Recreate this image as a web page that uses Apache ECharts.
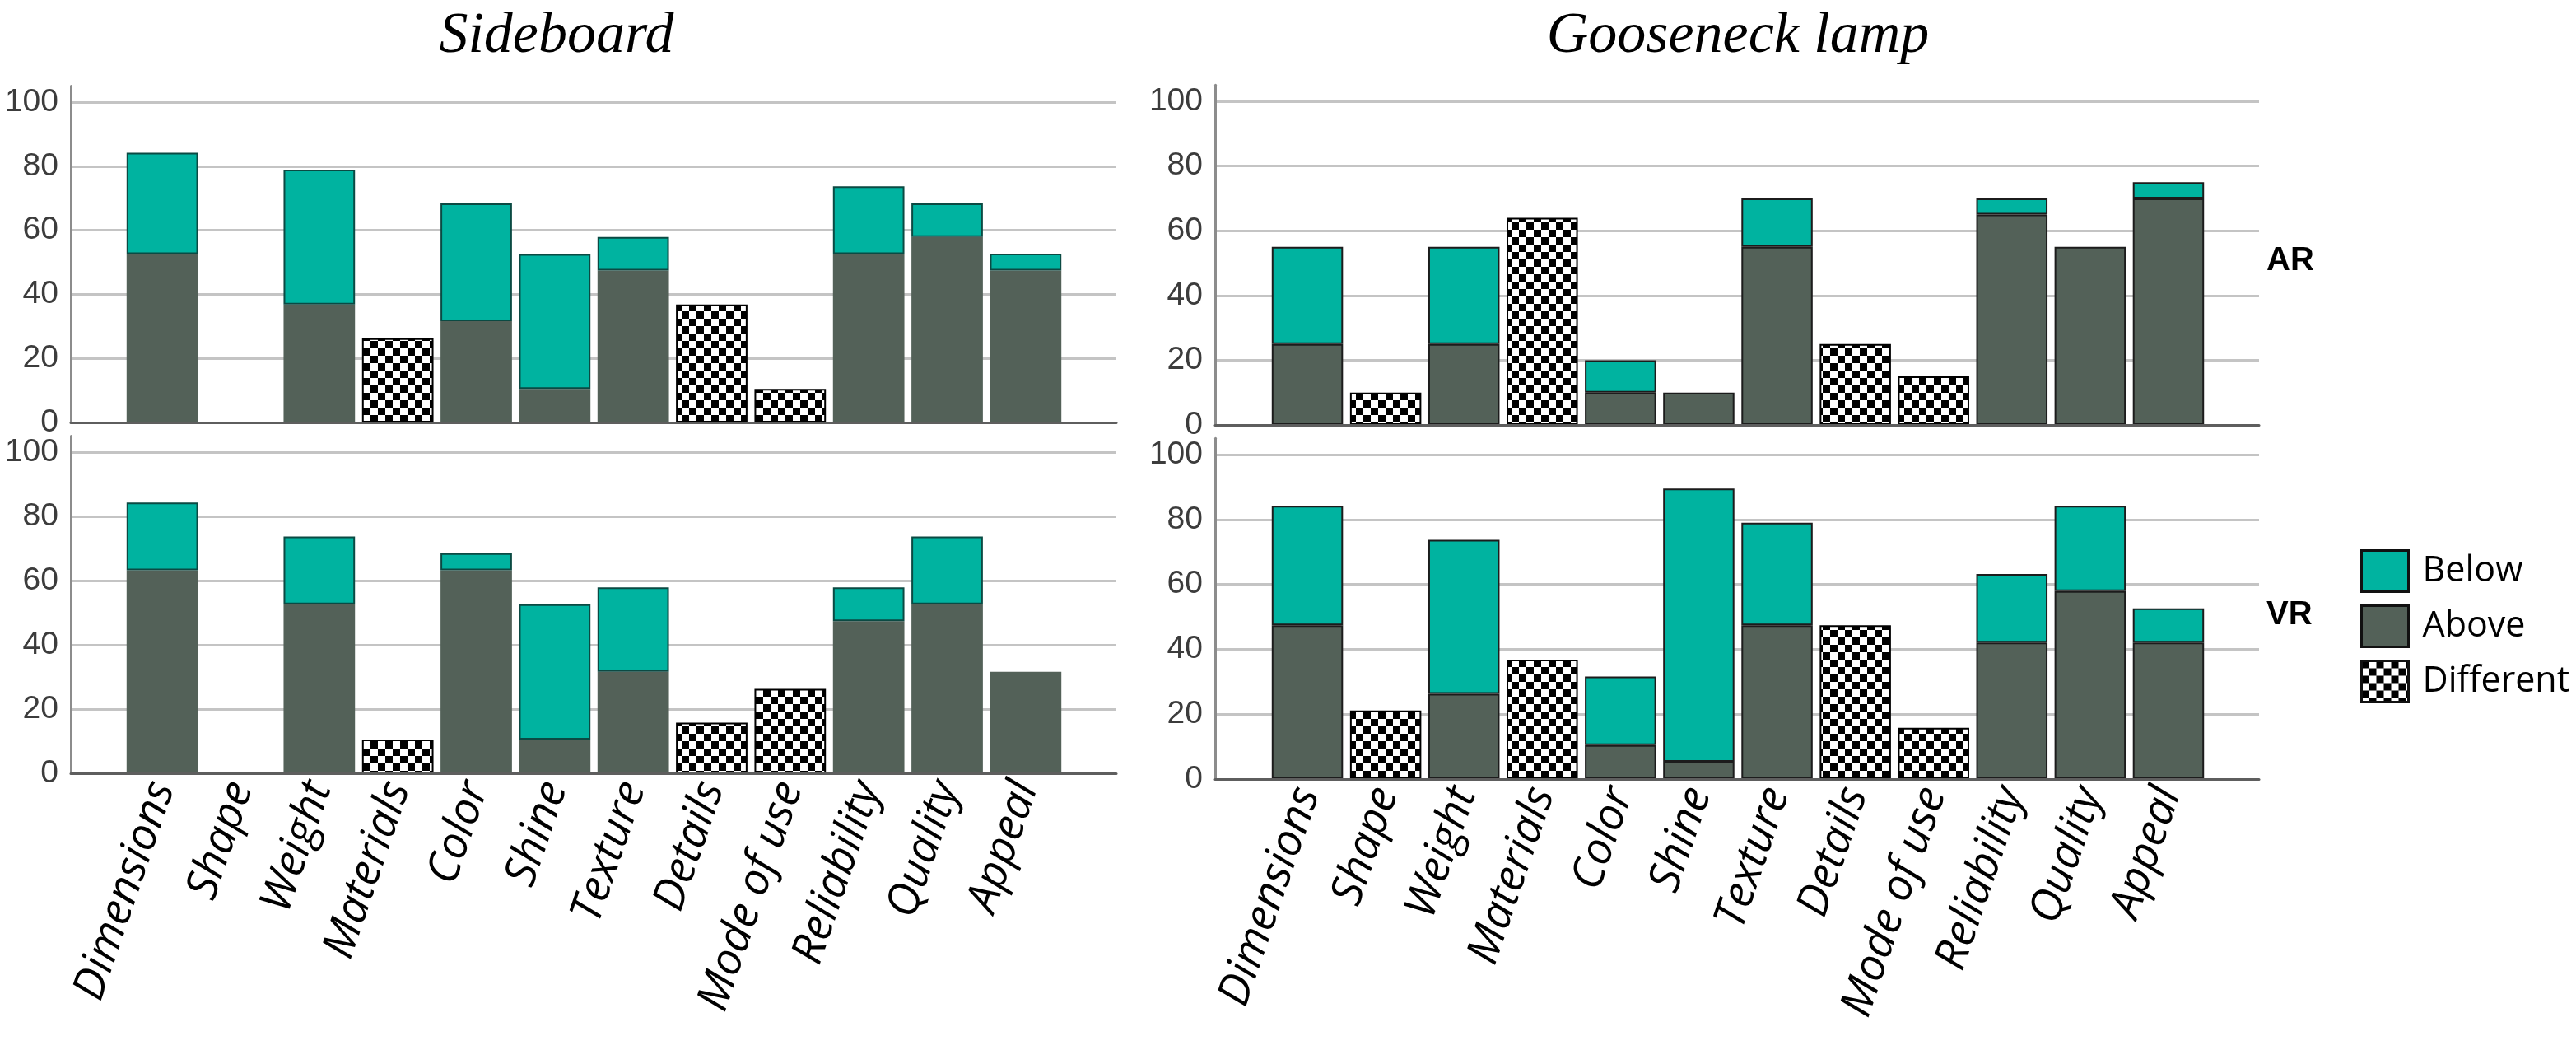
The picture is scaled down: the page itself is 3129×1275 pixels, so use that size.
<!DOCTYPE html>
<html>
<head>
<meta charset="utf-8">
<script src="https://cdn.jsdelivr.net/npm/echarts@6/dist/echarts.min.js"></script>
<style>
html,body{margin:0;padding:0;background:#fff;}
#chart{width:3129px;height:1275px;}
</style>
</head>
<body>
<div id="chart"></div>
<script>
// ---------- DATA ----------
const categories = ['Dimensions','Shape','Weight','Materials','Color','Shine','Texture','Details','Mode of use','Reliability','Quality','Appeal'];
const yTicks = [0, 20, 40, 60, 80, 100];
const legendNames = ['Below', 'Above', 'Different'];
const panelTitles = ['Sideboard', 'Gooseneck lamp'];
const rowLabels = ['AR', 'VR'];

// Sideboard, AR
const sideboardAR_above     = [52.6, 0, 36.8, 0, 31.6, 10.5, 47.4, 0, 0, 52.6, 57.9, 47.4];
const sideboardAR_below     = [31.6, 0, 42.1, 0, 36.8, 42.1, 10.5, 0, 0, 21.1, 10.5, 5.3];
const sideboardAR_different = [0, 0, 0, 26.3, 0, 0, 0, 36.8, 10.5, 0, 0, 0];
// Sideboard, VR
const sideboardVR_above     = [63.2, 0, 52.6, 0, 63.2, 10.5, 31.6, 0, 0, 47.4, 52.6, 31.6];
const sideboardVR_below     = [21.1, 0, 21.1, 0, 5.3, 42.1, 26.3, 0, 0, 10.5, 21.1, 0];
const sideboardVR_different = [0, 0, 0, 10.5, 0, 0, 0, 15.8, 26.3, 0, 0, 0];
// Gooseneck lamp, AR
const lampAR_above     = [25, 0, 25, 0, 10, 10, 55, 0, 0, 65, 55, 70];
const lampAR_below     = [30, 0, 30, 0, 10, 0, 15, 0, 0, 5, 0, 5];
const lampAR_different = [0, 10, 0, 64, 0, 0, 0, 25, 15, 0, 0, 0];
// Gooseneck lamp, VR
const lampVR_above     = [47.4, 0, 26.3, 0, 10.5, 5.3, 47.4, 0, 0, 42.1, 57.9, 42.1];
const lampVR_below     = [36.8, 0, 47.4, 0, 21.1, 84.2, 31.6, 0, 0, 21.1, 26.3, 10.5];
const lampVR_different = [0, 21.1, 0, 36.8, 0, 0, 0, 47.4, 15.8, 0, 0, 0];

// ---------- STYLE / LAYOUT ----------
const TEAL = '#00B3A0';
const DARK = '#536158';
const Y_MAX = 105;

// checkerboard pattern
const pc = document.createElement('canvas');
pc.width = 18; pc.height = 18;
const pctx = pc.getContext('2d');
pctx.fillStyle = '#fff'; pctx.fillRect(0, 0, 18, 18);
pctx.fillStyle = '#000'; pctx.fillRect(0, 0, 9, 9); pctx.fillRect(9, 9, 9, 9);
const CHECK = { image: pc, repeat: 'repeat' };

// panel layouts: y0 = pixel of value 0, y100 = pixel of value 100
const panels = [
  { name: 'sbAR', axisX: 86,   endX: 1356, bandL: 149.5,  bandW: 1144, y0: 513, y100: 124, labels: false, left: true,
    above: sideboardAR_above, below: sideboardAR_below, diff: sideboardAR_different },
  { name: 'sbVR', axisX: 86,   endX: 1356, bandL: 149.5,  bandW: 1144, y0: 939, y100: 549, labels: true,  left: true,
    above: sideboardVR_above, below: sideboardVR_below, diff: sideboardVR_different },
  { name: 'glAR', axisX: 1476, endX: 2744, bandL: 1540.5, bandW: 1141, y0: 516, y100: 123, labels: false, left: false,
    above: lampAR_above, below: lampAR_below, diff: lampAR_different },
  { name: 'glVR', axisX: 1476, endX: 2744, bandL: 1540.5, bandW: 1141, y0: 946, y100: 552, labels: true,  left: false,
    above: lampVR_above, below: lampVR_below, diff: lampVR_different }
];

const nz = a => a.map(v => (v === 0 ? null : v));

const grid = [], xAxis = [], yAxis = [], series = [];
panels.forEach((p, i) => {
  const pxPerUnit = (p.y0 - p.y100) / 100;
  const top = p.y0 - Y_MAX * pxPerUnit;
  const height = p.y0 - top;
  const fg = 2 * i, bg = 2 * i + 1;
  grid.push({ left: p.axisX, top: top, width: p.endX - p.axisX, height: height, containLabel: false, outerBoundsMode: 'none' });
  grid.push({ left: p.bandL, top: top, width: p.bandW, height: height, containLabel: false, outerBoundsMode: 'none' });

  // frame axes
  xAxis.push({ type: 'value', gridIndex: fg, min: 0, max: 1, show: true,
    axisLine: { show: true, onZero: false, lineStyle: { color: '#5e5e5e', width: 3 } },
    axisTick: { show: false }, axisLabel: { show: false }, splitLine: { show: false }, z: 5 });
  yAxis.push({ type: 'value', gridIndex: fg, min: 0, max: Y_MAX, interval: 20,
    axisLine: { show: true, lineStyle: { color: '#8c8c8c', width: 3 } },
    axisTick: { show: false },
    axisLabel: { show: true, margin: 15, color: '#3c3c3c', fontSize: 39, fontFamily: 'Liberation Sans',
      showMaxLabel: false, formatter: v => (yTicks.indexOf(v) >= 0 ? String(v) : '') },
    splitLine: { show: true, showMaxLine: false, lineStyle: { color: '#c4c4c4', width: 3 } } });

  // bar axes
  xAxis.push({ type: 'category', gridIndex: bg, data: categories,
    axisLine: { show: false }, axisTick: { show: false }, splitLine: { show: false },
    axisLabel: { show: p.labels, interval: 0, rotate: 71, margin: 12, color: '#000',
      fontSize: 54, fontStyle: 'italic', fontFamily: 'Open Sans' } });
  yAxis.push({ type: 'value', gridIndex: bg, min: 0, max: Y_MAX, show: false, splitLine: { show: false } });

  const bw = p.left ? 0 : 2;
  const bc = '#1c1c1c';
  series.push({ name: 'Above', type: 'bar', xAxisIndex: bg, yAxisIndex: bg, stack: p.name, barWidth: '91%',
    data: nz(p.above), itemStyle: { color: DARK, borderColor: bc, borderWidth: bw }, z: 3 });
  series.push({ name: 'Below', type: 'bar', xAxisIndex: bg, yAxisIndex: bg, stack: p.name, barWidth: '91%',
    data: nz(p.below), itemStyle: { color: TEAL, borderColor: p.left ? '#0b4a43' : bc, borderWidth: 2 }, z: 3 });
  series.push({ name: 'Different', type: 'bar', xAxisIndex: bg, yAxisIndex: bg, stack: p.name, barWidth: '91%',
    data: nz(p.diff), itemStyle: { color: CHECK, borderColor: '#000', borderWidth: 2 }, z: 3 });
});

const chart = echarts.init(document.getElementById('chart'), null, { renderer: 'canvas' });
chart.setOption({
  backgroundColor: '#fff',
  animation: false,
  grid: grid,
  xAxis: xAxis,
  yAxis: yAxis,
  series: series,
  legend: {
    data: legendNames, orient: 'vertical', left: 2867, top: 667,
    itemWidth: 57, itemHeight: 50, itemGap: 14, padding: 0, icon: 'rect',
    itemStyle: { borderColor: '#111', borderWidth: 3 },
    textStyle: { fontSize: 43, fontFamily: 'Open Sans', color: '#000', padding: [0, 0, 0, 12] },
    selectedMode: false
  },
  graphic: [
    { type: 'text', x: 676, y: 45, style: { text: panelTitles[0], fill: '#000', font: 'italic 70px "Liberation Serif"', align: 'center', verticalAlign: 'middle' } },
    { type: 'text', x: 2111, y: 45, style: { text: panelTitles[1], fill: '#000', font: 'italic 70px "Liberation Serif"', align: 'center', verticalAlign: 'middle' } },
    { type: 'text', x: 2753, y: 317, style: { text: rowLabels[0], fill: '#000', font: 'bold 40px "Liberation Sans"', align: 'left', verticalAlign: 'middle' } },
    { type: 'text', x: 2753, y: 747, style: { text: rowLabels[1], fill: '#000', font: 'bold 40px "Liberation Sans"', align: 'left', verticalAlign: 'middle' } }
  ]
});
</script>
</body>
</html>
